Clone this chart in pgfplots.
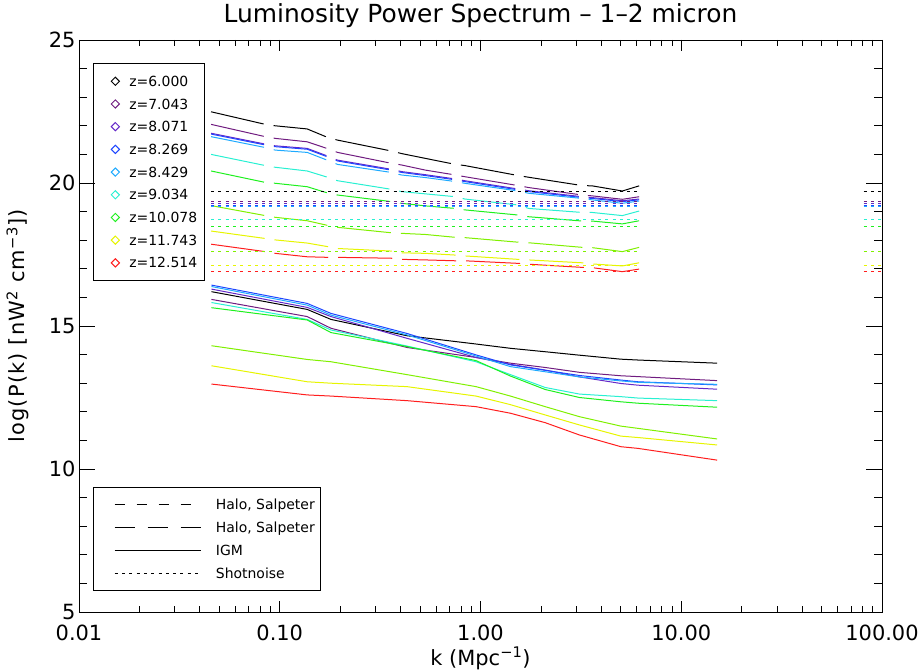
\documentclass[border=0pt]{standalone}
\usepackage{fontspec}
\setmainfont{DejaVu Sans}
\usepackage{pgfplots}
\usepackage{pgfplotstable}
\pgfplotsset{compat=1.18}

\definecolor{zbk}{HTML}{000000}
\definecolor{zpu}{HTML}{701C80}
\definecolor{zvi}{HTML}{6428C8}
\definecolor{zbl}{HTML}{1E46FF}
\definecolor{zlb}{HTML}{1EAAFF}
\definecolor{zcy}{HTML}{28F0D2}
\definecolor{zgr}{HTML}{1EF01E}
\definecolor{zch}{HTML}{80F000}
\definecolor{zye}{HTML}{E6F500}
\definecolor{zrd}{HTML}{FF1E1E}

% halo power spectra (long dashes), read off the dash ends
\pgfplotstableread{
k      bk    pu    vi    bl    lb    cy    gr    ch    ye    rd
0.0455 22.49 22.05 21.74 21.71 21.62 21.00 20.42 19.21 18.32 17.86
0.0847 22.05 21.62 21.36 21.33 21.24 20.61 20.02 18.86 18.06 17.60
0.095  22.00 21.56 21.30 21.27 21.15 20.55 19.99 18.80 18.01 17.54
0.137  21.89 21.44 21.21 21.18 21.07 20.42 19.87 18.68 17.90 17.42
0.175  21.58 21.19 20.93 20.90 20.78 20.19 19.64 18.51 17.77 17.40
0.194  21.50 21.07 20.80 20.77 20.65 20.08 19.58 18.45 17.71 17.40
0.359  21.12 20.69 20.48 20.45 20.37 19.78 19.35 18.26 17.62 17.37
0.404  21.03 20.63 20.40 20.37 20.28 19.70 19.29 18.24 17.56 17.33
0.532  20.86 20.45 20.29 20.26 20.19 19.62 19.20 18.20 17.54 17.31
0.75   20.65 20.28 20.14 20.11 20.05 19.52 19.11 18.10 17.48 17.28
0.835  20.61 20.22 20.08 20.05 19.99 19.44 19.06 18.09 17.45 17.28
1.54   20.26 19.91 19.79 19.76 19.72 19.23 18.88 17.93 17.33 17.19
1.74   20.20 19.84 19.73 19.70 19.64 19.11 18.82 17.91 17.31 17.16
3.21   19.91 19.58 19.52 19.49 19.46 18.97 18.67 17.75 17.21 17.05
3.6    19.90 19.55 19.49 19.46 19.41 18.97 18.67 17.74 17.17 17.04
5.09   19.72 19.43 19.38 19.35 19.29 18.86 18.57 17.60 17.10 16.90
6.17   19.90 19.52 19.44 19.41 19.37 19.02 18.68 17.75 17.21 16.99
}\halotab

% IGM
\pgfplotstableread{
k      bk    pu    vi    bl    lb    cy    gr    ch    ye    rd
0.0457 16.20 15.93 16.29 16.43 16.38 15.82 15.64 14.31 13.61 12.97
0.137  15.58 15.33 15.65 15.79 15.73 15.23 15.21 13.83 13.05 12.59
0.18   15.23 14.92 15.33 15.44 15.38 14.86 14.77 13.75 13.00 12.55
0.43   14.66 14.25 14.57 14.74 14.69 14.30 14.28 13.30 12.88 12.39
0.95   14.37 13.90 13.90 13.99 13.95 13.75 13.79 12.88 12.55 12.18
1.41   14.22 13.70 13.66 13.64 13.58 13.30 13.25 12.55 12.25 11.95
2.1    14.10 13.55 13.46 13.45 13.40 12.85 12.78 12.18 11.89 11.62
3.11   13.98 13.38 13.22 13.27 13.22 12.62 12.50 11.83 11.54 11.19
5.0    13.84 13.26 12.99 13.11 13.08 12.53 12.35 11.50 11.15 10.78
6.1    13.81 13.23 12.93 13.05 13.03 12.48 12.30 11.42 11.10 10.72
15.1   13.70 13.09 12.79 12.94 12.96 12.39 12.16 11.05 10.84 10.31
}\igmtab

% shot noise levels
\pgfplotstableread{
k      bk    pu    vi    bl    lb    cy    gr    ch    ye    rd
0.0455 19.72 19.35 19.27 19.22 19.19 18.71 18.49 17.60 17.10 16.90
6.1    19.72 19.35 19.27 19.22 19.19 18.71 18.49 17.60 17.10 16.90
20     nan   nan   nan   nan   nan   nan   nan   nan   nan   nan
81     19.72 19.35 19.27 19.22 19.19 18.71 18.49 17.60 17.10 16.90
100    19.72 19.35 19.27 19.22 19.19 18.71 18.49 17.60 17.10 16.90
}\shottab

\pgfplotsset{
  igm/.style={line width=1bp, solid},
  halo/.style={line width=1bp, dash pattern=on 54bp off 10bp},
  shot/.style={line width=0.9bp, dash pattern=on 3bp off 4.3bp},
  zmark/.style={mark=square, mark size=2.9bp, mark options={rotate=45, solid, line width=1bp}},
}

\begin{document}
\begin{tikzpicture}
\begin{axis}[
  name=ax,
  scale only axis, width=803bp, height=572bp,
  xmode=log, xmin=0.01, xmax=100, ymin=5, ymax=25,
  axis line style={line width=0.8bp},
  tick style={black, line width=0.8bp},
  tick label style={font=\fontsize{21}{24}\selectfont},
  label style={font=\fontsize{21}{24}\selectfont},
  unbounded coords=jump,
  xtick={0.01,0.1,1,10,100},
  xticklabels={0.01,0.10,1.00,10.00,100.00},
  ytick=\empty,
  major tick length=11.4bp, minor tick length=5.7bp,
  xticklabel style={anchor=base, yshift=-28bp},
  title={Luminosity Power Spectrum -- 1--2 micron},
  title style={font=\fontsize{25}{30}\selectfont, at={(axis description cs:0.5,1)}, anchor=base, yshift=12bp},
  xlabel={k (Mpc\textsuperscript{−1})},
  xlabel style={at={(axis description cs:0.5,0)}, anchor=base, yshift=-53bp},
  legend cell align=left,
  legend image code/.code={\path[draw=none] (-15bp,0bp) -- (4.1bp,0bp); \draw[#1] plot coordinates {(0bp,0bp)};},
  legend style={at={(axis description cs:0.0174,0.9593)}, anchor=north west,
    draw=black, line width=0.8bp, fill=white,
    inner xsep=7bp, inner ysep=12.5bp, row sep=12.5bp, column sep=9.9bp,
    font=\fontsize{14}{16}\selectfont,
    nodes={inner sep=0bp, text height=10.2bp, text depth=0bp}},
]
\addplot[forget plot, halo, zbk] table[x=k, y=bk] {\halotab};
\addplot[forget plot, halo, zpu] table[x=k, y=pu] {\halotab};
\addplot[forget plot, halo, zvi] table[x=k, y=vi] {\halotab};
\addplot[forget plot, halo, zbl] table[x=k, y=bl] {\halotab};
\addplot[forget plot, halo, zlb] table[x=k, y=lb] {\halotab};
\addplot[forget plot, halo, zcy] table[x=k, y=cy] {\halotab};
\addplot[forget plot, halo, zgr] table[x=k, y=gr] {\halotab};
\addplot[forget plot, halo, zch] table[x=k, y=ch] {\halotab};
\addplot[forget plot, halo, zye] table[x=k, y=ye] {\halotab};
\addplot[forget plot, halo, zrd] table[x=k, y=rd] {\halotab};

\addplot[forget plot, shot, zbk] table[x=k, y=bk] {\shottab};
\addplot[forget plot, shot, zpu] table[x=k, y=pu] {\shottab};
\addplot[forget plot, shot, zvi] table[x=k, y=vi] {\shottab};
\addplot[forget plot, shot, zbl] table[x=k, y=bl] {\shottab};
\addplot[forget plot, shot, zlb] table[x=k, y=lb] {\shottab};
\addplot[forget plot, shot, zcy] table[x=k, y=cy] {\shottab};
\addplot[forget plot, shot, zgr] table[x=k, y=gr] {\shottab};
\addplot[forget plot, shot, zch] table[x=k, y=ch] {\shottab};
\addplot[forget plot, shot, zye] table[x=k, y=ye] {\shottab};
\addplot[forget plot, shot, zrd] table[x=k, y=rd] {\shottab};

\addplot[forget plot, igm, zbk] table[x=k, y=bk] {\igmtab};
\addplot[forget plot, igm, zpu] table[x=k, y=pu] {\igmtab};
\addplot[forget plot, igm, zvi] table[x=k, y=vi] {\igmtab};
\addplot[forget plot, igm, zbl] table[x=k, y=bl] {\igmtab};
\addplot[forget plot, igm, zlb] table[x=k, y=lb] {\igmtab};
\addplot[forget plot, igm, zcy] table[x=k, y=cy] {\igmtab};
\addplot[forget plot, igm, zgr] table[x=k, y=gr] {\igmtab};
\addplot[forget plot, igm, zch] table[x=k, y=ch] {\igmtab};
\addplot[forget plot, igm, zye] table[x=k, y=ye] {\igmtab};
\addplot[forget plot, igm, zrd] table[x=k, y=rd] {\igmtab};

\addlegendimage{zmark, zbk}\addlegendentry{z=6.000}
\addlegendimage{zmark, zpu}\addlegendentry{z=7.043}
\addlegendimage{zmark, zvi}\addlegendentry{z=8.071}
\addlegendimage{zmark, zbl}\addlegendentry{z=8.269}
\addlegendimage{zmark, zlb}\addlegendentry{z=8.429}
\addlegendimage{zmark, zcy}\addlegendentry{z=9.034}
\addlegendimage{zmark, zgr}\addlegendentry{z=10.078}
\addlegendimage{zmark, zye}\addlegendentry{z=11.743}
\addlegendimage{zmark, zrd}\addlegendentry{z=12.514}
\end{axis}

\begin{axis}[
  scale only axis, width=803bp, height=572bp,
  xmode=log, xmin=0.01, xmax=100, ymin=5, ymax=25,
  axis line style={line width=0.8bp},
  tick style={black, line width=0.8bp},
  tick label style={font=\fontsize{21}{24}\selectfont},
  label style={font=\fontsize{21}{24}\selectfont},
  xtick=\empty, xminorticks=false,
  ytick={5,10,15,20,25}, yticklabels={5,10,15,20,25},
  minor y tick num=4,
  major tick length=16bp, minor tick length=8bp,
  ylabel={log(P(k)  [nW\textsuperscript{2} cm\textsuperscript{−3}])},
  ylabel style={font=\fontsize{21}{24}\selectfont\addfontfeatures{LetterSpace=6},
    at={(axis description cs:-0.076,0.5)}, anchor=center},
  legend cell align=left,
  legend image code/.code={\path[draw=none] (-15.6bp,0bp) -- (86bp,0bp); \draw[#1] (0bp,0bp) -- (86bp,0bp);},
  legend style={at={(axis description cs:0.0171,0.218)}, anchor=north west,
    draw=black, line width=0.8bp, fill=white,
    inner xsep=6bp, inner ysep=11.6bp, row sep=12.9bp, column sep=14.7bp,
    font=\fontsize{14}{16}\selectfont,
    nodes={inner sep=0bp, text height=10.2bp, text depth=0bp}},
]
\addlegendimage{black, line width=1bp, dash pattern=on 10bp off 12bp}\addlegendentry{Halo, Salpeter}
\addlegendimage{black, line width=1bp, dash pattern=on 20bp off 13bp}\addlegendentry{Halo, Salpeter}
\addlegendimage{black, line width=1bp, solid}\addlegendentry{IGM}
\addlegendimage{black, line width=1bp, dash pattern=on 3bp off 4.3bp}\addlegendentry{Shotnoise}
\end{axis}

\pgfresetboundingbox
\path (ax.south west) ++(-79bp,-59bp) rectangle ++(918bp,671bp);
\end{tikzpicture}
\end{document}
